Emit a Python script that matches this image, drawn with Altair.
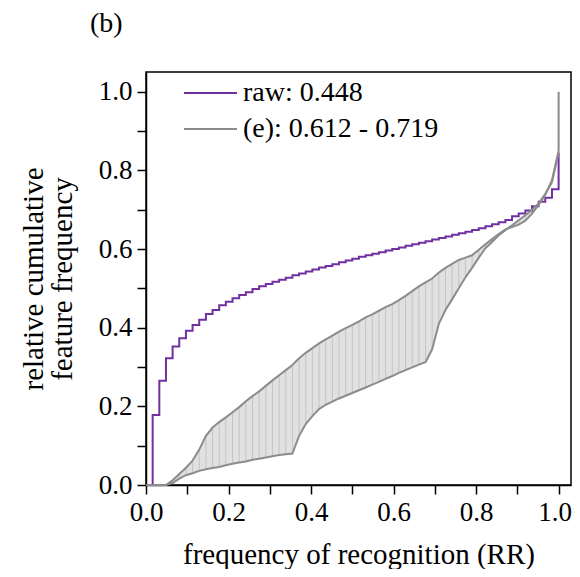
import altair as alt
import pandas as pd

# x positions of the recognition-frequency grid (RR)
RR = [0.0, 0.0161, 0.0323, 0.0484, 0.0645, 0.0806, 0.0968, 0.1129, 0.1290, 0.1452,
      0.1613, 0.1774, 0.1935, 0.2097, 0.2258, 0.2419, 0.2581, 0.2742, 0.2903, 0.3065,
      0.3226, 0.3387, 0.3548, 0.3710, 0.3871, 0.4032, 0.4194, 0.4355, 0.4516, 0.4677,
      0.4839, 0.5, 0.5161, 0.5323, 0.5484, 0.5645, 0.5806, 0.5968, 0.6129, 0.6290,
      0.6452, 0.6613, 0.6774, 0.6935, 0.7097, 0.7258, 0.7419, 0.7581, 0.7742, 0.7903,
      0.8065, 0.8226, 0.8387, 0.8548, 0.8710, 0.8871, 0.9032, 0.9194, 0.9355, 0.9516,
      0.9677, 0.9839, 1.0]

# raw cumulative curve (step)
RAW = [0.0, 0.178, 0.265, 0.322, 0.352, 0.373, 0.392, 0.407, 0.420, 0.435,
       0.445, 0.457, 0.466, 0.475, 0.483, 0.490, 0.498, 0.505, 0.511, 0.517,
       0.522, 0.527, 0.533, 0.538, 0.543, 0.548, 0.553, 0.557, 0.561, 0.566,
       0.571, 0.575, 0.580, 0.584, 0.588, 0.592, 0.596, 0.600, 0.604, 0.608,
       0.612, 0.616, 0.620, 0.624, 0.628, 0.632, 0.636, 0.640, 0.644, 0.648,
       0.653, 0.658, 0.663, 0.668, 0.674, 0.683, 0.690, 0.698, 0.709, 0.720,
       0.730, 0.752, 0.845]

# (e) band: lower and upper bounds
E_LOW = [0.0, 0.0, 0.0, 0.0, 0.005, 0.016, 0.025, 0.030, 0.036, 0.040,
         0.043, 0.046, 0.050, 0.054, 0.057, 0.060, 0.064, 0.067, 0.070, 0.073,
         0.076, 0.078, 0.080, 0.125, 0.155, 0.175, 0.193, 0.204, 0.212, 0.220,
         0.227, 0.234, 0.241, 0.248, 0.255, 0.262, 0.270, 0.277, 0.285, 0.292,
         0.299, 0.306, 0.312, 0.345, 0.410, 0.445, 0.472, 0.500, 0.528, 0.552,
         0.578, 0.602, 0.618, 0.635, 0.648, 0.660, 0.673, 0.686, 0.700, 0.716,
         0.740, 0.770, 0.845]
E_HIGH = [0.0, 0.0, 0.0, 0.0, 0.012, 0.028, 0.044, 0.062, 0.090, 0.125,
          0.146, 0.160, 0.172, 0.185, 0.198, 0.213, 0.226, 0.238, 0.252, 0.266,
          0.279, 0.292, 0.305, 0.322, 0.336, 0.348, 0.360, 0.370, 0.380, 0.390,
          0.399, 0.407, 0.416, 0.426, 0.434, 0.443, 0.452, 0.460, 0.470, 0.481,
          0.493, 0.505, 0.515, 0.525, 0.540, 0.552, 0.562, 0.572, 0.578, 0.584,
          0.598, 0.612, 0.625, 0.638, 0.650, 0.656, 0.662, 0.672, 0.690, 0.712,
          0.738, 0.775, 0.850]
E_END_RR = 1.0
E_END_FREQ = 1.0

RAW_LABEL = "raw: 0.448"
E_LABEL = "(e): 0.612 - 0.719"
RAW_COLOR = "#7030A0"
E_COLOR = "#8C8C8C"
TICKS = [0.0, 0.1, 0.2, 0.3, 0.4, 0.5, 0.6, 0.7, 0.8, 0.9, 1.0]

FONT = "Liberation Serif"

raw_df = pd.DataFrame({"rr": RR, "freq": RAW, "raw_series": RAW_LABEL})
band_df = pd.DataFrame({"rr": RR, "low": E_LOW, "high": E_HIGH})
rows = []
for i, (x, lo, hi) in enumerate(zip(RR, E_LOW, E_HIGH)):
    rows.append({"rr": x, "freq": lo, "bound": "low", "order": i, "e_series": E_LABEL})
    rows.append({"rr": x, "freq": hi, "bound": "high", "order": i, "e_series": E_LABEL})
rows.append({"rr": E_END_RR, "freq": E_END_FREQ, "bound": "high", "order": len(RR), "e_series": E_LABEL})
edge_df = pd.DataFrame(rows)

XS = alt.Scale(domain=[0, 1.03], nice=False, zero=False)
YS = alt.Scale(domain=[0, 1.05], nice=False, zero=False)
X_AX = alt.Axis(values=TICKS, labelFlush=False, labelOverlap=False,
                labelExpr="round(datum.value*10) % 2 == 0 ? format(datum.value, '.1f') : ''",
                labelOffset={"condition": {"test": "datum.value >= 0.99", "value": -4}, "value": 0},
                title="frequency of recognition (RR)", titlePadding=15)
Y_AX = alt.Axis(values=TICKS, labelFlush=False, labelOverlap=False,
                labelExpr="round(datum.value*10) % 2 == 0 ? format(datum.value, '.1f') : ''",
                title=["relative cumulative", "feature frequency"], titlePadding=21,
                titleLineHeight=29)


def legend_at(y):
    return alt.Legend(title=None, orient="none", legendX=37, legendY=y,
                      symbolType="stroke", symbolSize=2809, symbolStrokeWidth=2,
                      labelFont=FONT, labelFontSize=28, labelColor="black",
                      labelOffset=5, padding=0, labelLimit=500)


band = alt.Chart(band_df).mark_area(color="#e1e1e1", opacity=1).encode(
    x=alt.X("rr:Q", scale=XS, axis=X_AX),
    y=alt.Y("low:Q", scale=YS, axis=Y_AX),
    y2="high:Q",
)
hatch = alt.Chart(band_df).mark_rule(color="#c4c4c4", strokeWidth=1).encode(
    x=alt.X("rr:Q", scale=XS, axis=X_AX),
    y=alt.Y("low:Q", scale=YS, axis=Y_AX),
    y2="high:Q",
)
raw_line = alt.Chart(raw_df).mark_line(interpolate="step-after", strokeWidth=2).encode(
    x=alt.X("rr:Q", scale=XS, axis=X_AX),
    y=alt.Y("freq:Q", scale=YS, axis=Y_AX),
    color=alt.Color("raw_series:N", scale=alt.Scale(domain=[RAW_LABEL], range=[RAW_COLOR]),
                    legend=legend_at(-6.5)),
)
edges = alt.Chart(edge_df).mark_line(strokeWidth=2).encode(
    x=alt.X("rr:Q", scale=XS, axis=X_AX),
    y=alt.Y("freq:Q", scale=YS, axis=Y_AX),
    stroke=alt.Stroke("e_series:N", scale=alt.Scale(domain=[E_LABEL], range=[E_COLOR]),
                      legend=legend_at(29.5)),
    detail="bound:N",
    order="order:Q",
)

chart = alt.layer(band, hatch, raw_line, edges).properties(
    width=425, height=413,
    autosize=alt.AutoSizeParams(type="none"),
    padding={"left": 138, "top": 64, "right": 1, "bottom": 84},
    title=alt.TitleParams("(b)", anchor="start", frame="group", dx=-56, offset=6,
                          font=FONT, fontSize=28, fontWeight="normal", color="black",
                          baseline="alphabetic"),
).resolve_scale(color="independent", stroke="independent").configure_view(
    stroke="black", strokeWidth=1.5
).configure_axis(
    grid=False, domainColor="black", domainWidth=1.5, tickColor="black",
    tickWidth=1.5, tickSize=9, labelFont=FONT, labelFontSize=27, labelColor="black",
    labelPadding=5, titleFont=FONT, titleFontSize=29, titleFontWeight="normal",
    titleColor="black",
)

chart.save("out.html", embed_options={"renderer": "svg", "actions": False})
